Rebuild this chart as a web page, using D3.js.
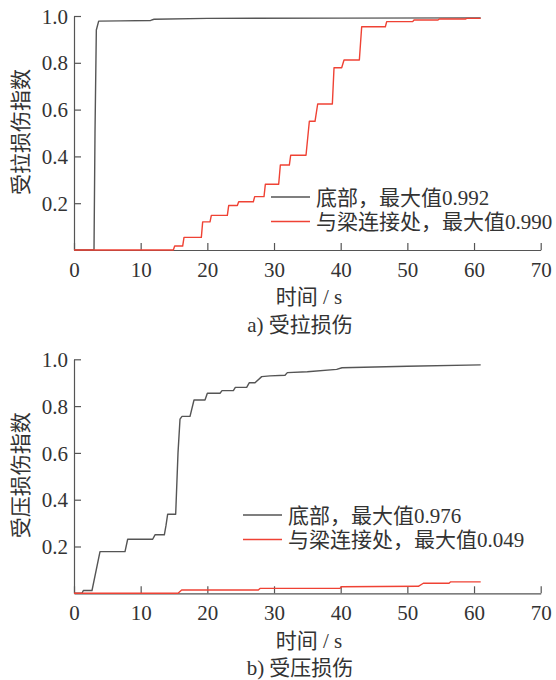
<!DOCTYPE html>
<html>
<head>
<meta charset="utf-8">
<script src="https://cdn.jsdelivr.net/npm/d3@7"></script>
<style>
  html, body { margin: 0; padding: 0; background: #fff; }
  svg { display: block; }
  svg text { font-family: "Liberation Serif", "Times New Roman", Tinos, "DejaVu Serif", "Noto Sans CJK SC", serif !important; fill: #333; }
</style>
</head>
<body>
<script>
// ---- data ----
const xTicks = [0, 10, 20, 30, 40, 50, 60, 70];
const yTicks = [0.2, 0.4, 0.6, 0.8, 1.0];

// a) tension damage
const tensionBaseT = [0, 3.0, 3.15, 3.35, 3.7, 7.0, 11.5, 12.0, 20, 40, 61];
const tensionBaseV = [0, 0, 0.5, 0.94, 0.978, 0.979, 0.981, 0.986, 0.99, 0.991, 0.992];

const tensionJointT = [0, 14.9, 15.1, 16.3, 16.5, 19.1, 19.3, 20.4, 20.6, 23.0, 23.2, 24.5, 24.7, 26.9, 27.1, 28.5, 28.7,
  30.7, 30.95, 32.3, 32.5, 34.8, 35.3, 36.15, 36.55, 38.75, 39.0, 40.15, 40.5, 42.8, 43.15, 46.7, 46.9,
  50.8, 51.0, 54.6, 54.8, 58.7, 58.9, 61];
const tensionJointV = [0, 0, 0.017, 0.017, 0.054, 0.054, 0.12, 0.12, 0.148, 0.148, 0.19, 0.19, 0.206, 0.206, 0.228, 0.228, 0.281,
  0.281, 0.363, 0.363, 0.405, 0.405, 0.55, 0.55, 0.624, 0.624, 0.779, 0.779, 0.812, 0.812, 0.954, 0.954, 0.976,
  0.976, 0.983, 0.983, 0.987, 0.987, 0.99, 0.99];

// b) compression damage
const compBaseT = [0, 1.2, 1.4, 2.7, 3.9, 7.65, 8.05, 11.8, 12.15, 13.55, 13.8, 14.05, 15.25, 15.6, 15.9, 16.2, 17.4, 18.0,
  19.65, 20.0, 21.9, 22.2, 23.9, 24.2, 25.9, 26.3, 27.15, 28.15, 29.4, 31.65, 32.0, 35.0, 39.4, 40.2, 50, 61];
const compBaseV = [0, 0, 0.012, 0.012, 0.178, 0.178, 0.231, 0.231, 0.25, 0.25, 0.29, 0.338, 0.338, 0.6, 0.744, 0.756, 0.756, 0.826,
  0.826, 0.855, 0.855, 0.866, 0.866, 0.88, 0.88, 0.9, 0.9, 0.926, 0.929, 0.932, 0.943, 0.947, 0.957, 0.964, 0.97, 0.976];

const compJointT = [0, 15.6, 16.15, 27.65, 27.9, 39.9, 40.1, 51.65, 52.4, 56.25, 56.5, 61];
const compJointV = [0, 0, 0.014, 0.014, 0.021, 0.021, 0.028, 0.03, 0.043, 0.043, 0.049, 0.049];

const legendA = ["底部，最大值0.992", "与梁连接处，最大值0.990"];
const legendB = ["底部，最大值0.976", "与梁连接处，最大值0.049"];

const panels = [
  { top: 16, yTitle: "受拉损伤指数", caption: "a) 受拉损伤",
    series: [[tensionBaseT, tensionBaseV], [tensionJointT, tensionJointV]],
    legend: legendA, legX: 271, legY: 197 },
  { top: 359.3, yTitle: "受压损伤指数", caption: "b) 受压损伤",
    series: [[compBaseT, compBaseV], [compJointT, compJointV]],
    legend: legendB, legX: 243, legY: 515 }
];

const colors = ["#555555", "#ef4234"];
const W = 556, H = 680;
const left = 74, plotW = 466.7, plotH = 234;
const fs = 21;

const svg = d3.select("body").append("svg").attr("width", W).attr("height", H);

const x = d3.scaleLinear().domain([0, 70]).range([0, plotW]);

panels.forEach(p => {
  const g = svg.append("g").attr("transform", `translate(${left},${p.top})`);
  const y = d3.scaleLinear().domain([0, 1]).range([plotH, 0]);

  const xa = g.append("g").attr("transform", `translate(0,${plotH})`)
    .call(d3.axisBottom(x).tickValues(xTicks).tickSize(-7).tickSizeOuter(0).tickPadding(12).tickFormat(d3.format("d")));
  const ya = g.append("g")
    .call(d3.axisLeft(y).tickValues(yTicks).tickSize(-7).tickSizeOuter(0).tickPadding(6).tickFormat(d3.format(".1f")));
  [xa, ya].forEach(a => {
    a.attr("font-family", null).attr("font-size", null);
    a.selectAll("path, line").attr("stroke", "#555").attr("stroke-width", 1.2);
    a.selectAll("text").attr("font-size", fs).attr("fill", "#333");
  });
  ya.selectAll("text").attr("dy", "0.34em");

  const line = d3.line().x(d => x(d[0])).y(d => y(d[1]));
  p.series.forEach((s, i) => {
    const pts = d3.zip(s[0], s[1]);
    g.append("path").datum(pts).attr("d", line)
      .attr("fill", "none").attr("stroke", colors[i]).attr("stroke-width", 1.4)
      .attr("stroke-linejoin", "round");
  });

  // legend
  p.legend.forEach((t, i) => {
    const ly = p.legY + i * 24.5;
    svg.append("line").attr("x1", p.legX).attr("x2", p.legX + 39)
      .attr("y1", ly).attr("y2", ly).attr("stroke", colors[i]).attr("stroke-width", 1.4);
    svg.append("text").attr("x", p.legX + 45).attr("y", ly).attr("dy", "0.36em")
      .attr("font-size", fs).text(t);
  });

  // y title
  svg.append("text")
    .attr("transform", `translate(20,${p.top + plotH / 2 - 1}) rotate(-90)`)
    .attr("text-anchor", "middle").attr("dy", "0.36em")
    .attr("font-size", fs).text(p.yTitle);

  // x title
  svg.append("text").attr("x", 309).attr("y", p.top + plotH + 46.7)
    .attr("text-anchor", "middle").attr("dy", "0.36em")
    .attr("font-size", fs).text("时间 / s");

  // caption
  svg.append("text").attr("x", 300).attr("y", p.top + plotH + 74)
    .attr("text-anchor", "middle").attr("dy", "0.36em")
    .attr("font-size", fs).text(p.caption);
});
</script>
</body>
</html>
